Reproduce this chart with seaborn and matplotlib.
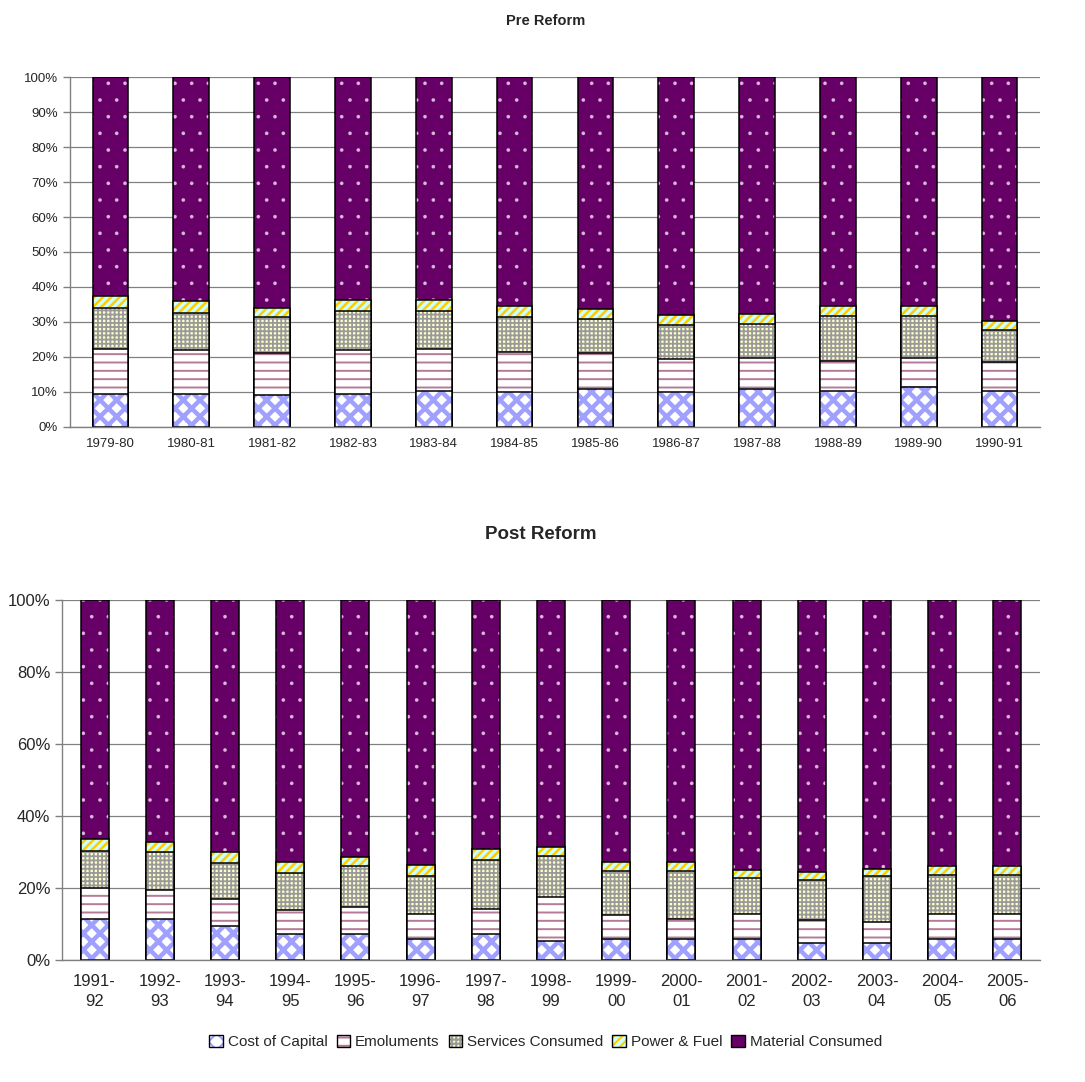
import numpy as np
import pandas as pd
import matplotlib
matplotlib.use("Agg")
import matplotlib.pyplot as plt
from matplotlib.patches import Patch
import seaborn as sns

# ---- data (segment shares in %) ----
series = ["Cost of Capital", "Emoluments", "Services Consumed", "Power & Fuel", "Material Consumed"]

pre_years = ["1979-80", "1980-81", "1981-82", "1982-83", "1983-84", "1984-85",
             "1985-86", "1986-87", "1987-88", "1988-89", "1989-90", "1990-91"]
pre_capital = [9.4, 9.4, 9.0, 9.4, 10.3, 10.0, 10.8, 10.0, 10.8, 10.4, 11.3, 10.4]
pre_emoluments = [13.0, 12.6, 12.2, 12.6, 12.1, 11.5, 10.4, 9.3, 8.9, 8.5, 8.5, 8.1]
pre_services = [11.7, 10.7, 10.1, 11.1, 10.7, 9.8, 9.6, 9.7, 9.8, 12.9, 12.0, 9.2]
pre_power = [3.2, 3.3, 2.8, 3.2, 3.2, 3.3, 2.9, 2.9, 2.8, 2.8, 2.8, 2.7]
pre_material = [62.7, 64.0, 65.9, 63.7, 63.7, 65.4, 66.3, 68.1, 67.7, 65.4, 65.4, 69.6]

post_years = ["1991-92", "1992-93", "1993-94", "1994-95", "1995-96", "1996-97", "1997-98",
              "1998-99", "1999-00", "2000-01", "2001-02", "2002-03", "2003-04", "2004-05", "2005-06"]
post_capital = [11.4, 11.4, 9.3, 7.1, 7.1, 5.8, 7.1, 5.3, 5.9, 5.9, 5.7, 4.8, 4.8, 5.8, 5.8]
post_emoluments = [8.6, 8.1, 7.7, 6.8, 7.5, 7.0, 7.1, 12.2, 6.5, 5.6, 7.2, 6.4, 5.8, 7.1, 7.1]
post_services = [10.4, 10.5, 10.0, 10.3, 11.4, 10.4, 13.5, 11.5, 12.3, 13.1, 9.9, 11.0, 12.7, 10.7, 10.7]
post_power = [3.1, 2.9, 3.0, 3.0, 2.6, 3.1, 3.2, 2.3, 2.6, 2.6, 2.3, 2.3, 2.1, 2.4, 2.4]
post_material = [66.5, 67.1, 70.0, 72.8, 71.4, 73.7, 69.1, 68.7, 72.7, 72.8, 74.9, 75.5, 74.6, 74.0, 74.0]

# face colour, hatch colour, hatch, hatch line width
styles = {
    "Cost of Capital": ("white", "#A0A0FF", "xx", 3.2),
    "Emoluments": ("white", "#B57A98", "--", 1.4),
    "Services Consumed": ("#FFFFCC", "#9A9A9A", "++++", 1.3),
    "Power & Fuel": ("#CCFFFF", "#FFCC00", "////", 1.8),
    "Material Consumed": ("#660066", "#D8B8D8", ".", 0.2),
}

sns.set_style("white")
plt.rcParams["font.family"] = ["Liberation Sans", "DejaVu Sans"]
plt.rcParams["hatch.linewidth"] = 1.5


def style_fill(p, face, hc, h, hlw):
    p.set_facecolor(face)
    p.set_edgecolor(hc)
    p.set_hatch(h)
    p.set_linewidth(0)
    if hasattr(p, "set_hatch_linewidth"):
        p.set_hatch_linewidth(hlw)


def draw_panel(ax, labels, parts, width, step, fs, two_line=False):
    df = pd.DataFrame(dict(zip(series, parts)), index=labels)
    cum = df.cumsum(axis=1)
    for name in reversed(series):
        face, hc, h, hlw = styles[name]
        n0 = len(ax.patches)
        sns.barplot(x=labels, y=cum[name].values, ax=ax, color=face, width=width, saturation=1)
        for p in ax.patches[n0:]:
            style_fill(p, face, hc, h, hlw)
        n1 = len(ax.patches)
        sns.barplot(x=labels, y=cum[name].values, ax=ax, color=face, width=width, saturation=1)
        for p in ax.patches[n1:]:
            p.set_facecolor("none")
            p.set_edgecolor("black")
            p.set_linewidth(1.1)
    n = len(labels)
    ax.set_xlim(-0.5, n - 0.5)
    ax.set_ylim(0, 100)
    ax.set_yticks(np.arange(0, 101, step))
    ax.set_yticklabels([f"{v}%" for v in range(0, 101, step)], fontsize=fs)
    ax.set_xticks(np.arange(n))
    if two_line:
        ax.set_xticklabels([l.replace("-", "-\n") for l in labels], fontsize=fs, linespacing=1.45)
    else:
        ax.set_xticklabels(labels, fontsize=fs)
    ax.set_xticks(np.arange(n + 1) - 0.5, minor=True)
    ax.tick_params(axis="x", which="major", length=0, pad=10 if two_line else 8)
    ax.tick_params(axis="x", which="minor", length=5, color="#808080", width=1)
    ax.tick_params(axis="y", length=5, color="#808080", width=1, left=True, direction="out")
    ax.yaxis.grid(True, color="#808080", linewidth=0.9)
    ax.set_axisbelow(True)
    for s in ["top", "right"]:
        ax.spines[s].set_visible(False)
    for s in ["left", "bottom"]:
        ax.spines[s].set_color("#808080")
        ax.spines[s].set_linewidth(1)
    ax.set_xlabel("")
    ax.set_ylabel("")


fig = plt.figure(figsize=(10.85, 10.82), dpi=100)
ax1 = fig.add_axes([0.0645, 0.6054, 0.894, 0.3234])
ax2 = fig.add_axes([0.0571, 0.1128, 0.9014, 0.3327])

draw_panel(ax1, pre_years,
           [pre_capital, pre_emoluments, pre_services, pre_power, pre_material],
           width=0.44, step=10, fs=9.5)
draw_panel(ax2, post_years,
           [post_capital, post_emoluments, post_services, post_power, post_material],
           width=0.43, step=20, fs=12, two_line=True)

fig.text(0.503, 0.981, "Pre Reform", ha="center", va="center", fontsize=10.5, fontweight="bold")
fig.text(0.498, 0.506, "Post Reform", ha="center", va="center", fontsize=13.5, fontweight="bold")

handles = []
for name in series:
    face, hc, h, hlw = styles[name]
    hp = Patch()
    style_fill(hp, face, hc, h, min(hlw, 1.5))
    handles.append((hp, Patch(facecolor="none", edgecolor="black", linewidth=1)))
fig.legend(handles, series, loc="center", bbox_to_anchor=(0.503, 0.037), ncol=5,
           frameon=False, fontsize=11, handlelength=0.9, handleheight=0.9,
           handletextpad=0.3, columnspacing=0.6)

fig.savefig("out.png", dpi=100)
